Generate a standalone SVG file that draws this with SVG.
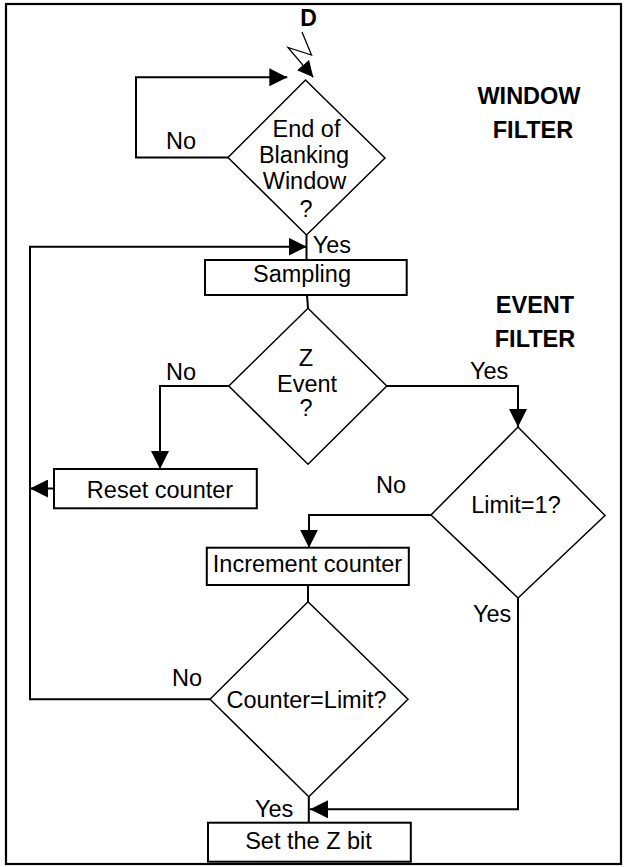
<svg xmlns="http://www.w3.org/2000/svg" width="626" height="867" viewBox="0 0 626 867">
<style>
  .bg { fill: #ffffff; }
  .frame { fill: none; stroke: #000; stroke-width: 2.2; }
  .box { fill: #fff; stroke: #000; stroke-width: 2; }
  .dia { fill: #fff; stroke: #000; stroke-width: 1.5; }
  .con { fill: none; stroke: #000; stroke-width: 2; }
  .thin { fill: none; stroke: #000; stroke-width: 1.3; }
  text { font-family: "Liberation Sans", Arial, Helvetica, sans-serif; fill: #000; }
  .t { font-size: 23.5px; }
  .c { text-anchor: middle; }
  .h { font-size: 23.5px; font-weight: bold; text-anchor: middle; }
  .d { font-size: 23px; font-weight: bold; text-anchor: middle; }
</style>
<defs>
  <marker id="arr" markerUnits="userSpaceOnUse" markerWidth="18" markerHeight="18" viewBox="0 0 17 17" refX="17" refY="8.5" orient="auto">
    <path d="M0,0 L17,8.5 L0,17 z" fill="#000"/>
  </marker>
  <marker id="arrs" markerUnits="userSpaceOnUse" markerWidth="16" markerHeight="16" viewBox="0 0 16 16" refX="16" refY="8" orient="auto">
    <path d="M0,0 L16,8 L0,16 z" fill="#000"/>
  </marker>
</defs>
<rect class="bg" x="0" y="0" width="626" height="867"/>
<rect class="frame" x="6" y="4" width="615" height="860"/>

<g id="section-labels">
  <text class="h" x="529" y="104">WINDOW</text>
  <text class="h" x="533" y="138">FILTER</text>
  <text class="h" x="535" y="313">EVENT</text>
  <text class="h" x="535" y="347">FILTER</text>
</g>

<g id="connectors">
  <polyline class="thin" points="302,32 311.5,55 288,47.5 313.3,77.3" marker-end="url(#arrs)"/>
  <polyline class="con" points="228,157.5 136,157.5 136,77.3 287.3,77.3" marker-end="url(#arr)"/>
  <line class="con" x1="306.5" y1="235" x2="306.5" y2="260"/>
  <polyline class="con" points="210,699.3 30,699.3 30,246.7 306.7,246.7" marker-end="url(#arr)"/>
  <line class="con" x1="307" y1="295" x2="308" y2="308.3"/>
  <polyline class="con" points="228.8,386 160,386 160,469" marker-end="url(#arr)"/>
  <line class="con" x1="54" y1="488.5" x2="30" y2="488.5" marker-end="url(#arr)"/>
  <polyline class="con" points="386.8,386 518,386 518,427" marker-end="url(#arr)"/>
  <polyline class="con" points="431,515 309,515 309,547.7" marker-end="url(#arr)"/>
  <line class="con" x1="308" y1="585" x2="308" y2="601.7"/>
  <line class="con" x1="308.8" y1="796.7" x2="308.8" y2="822.7"/>
  <polyline class="con" points="518,598 518,809.3 310,809.3" marker-end="url(#arr)"/>
</g>

<g id="connector-labels">
  <text class="t" x="166" y="149">No</text>
  <text class="t" x="312.7" y="253">Yes</text>
  <text class="t" x="166" y="380">No</text>
  <text class="t" x="470" y="379.3">Yes</text>
  <text class="t" x="376" y="493">No</text>
  <text class="t" x="473" y="621.7">Yes</text>
  <text class="t" x="172" y="686">No</text>
  <text class="t" x="255" y="816.7">Yes</text>
</g>

<g id="start-D">
  <text class="d" x="308.5" y="26">D</text>
</g>

<g id="end-of-blanking">
  <polygon class="dia" points="305.5,80 385,158 306.5,235 228,157.5"/>
  <text class="t c" x="306.5" y="136.7">End of</text>
  <text class="t c" x="304" y="162.7">Blanking</text>
  <text class="t c" x="304.5" y="189">Window</text>
  <text class="t c" x="306" y="216.7">?</text>
</g>

<g id="sampling">
  <rect class="box" x="205" y="260" width="201.7" height="35"/>
  <text class="t c" x="302" y="281.7">Sampling</text>
</g>

<g id="z-event">
  <polygon class="dia" points="308,308.3 386.8,386 308,464.3 228.8,386"/>
  <text class="t c" x="306" y="366">Z</text>
  <text class="t c" x="307" y="391.7">Event</text>
  <text class="t c" x="306" y="416">?</text>
</g>

<g id="reset-counter">
  <rect class="box" x="54" y="469" width="202.8" height="39.3"/>
  <text class="t c" x="160" y="498">Reset counter</text>
</g>

<g id="limit-1">
  <polygon class="dia" points="518,427 605,515.5 518,598 431,515"/>
  <text class="t c" x="516" y="513.3">Limit=1?</text>
</g>

<g id="increment-counter">
  <rect class="box" x="206.8" y="547.7" width="202" height="37.3"/>
  <text class="t c" x="307.5" y="571.7">Increment counter</text>
</g>

<g id="counter-limit">
  <polygon class="dia" points="308,601.7 408,699.3 308.8,796.7 210,699.3"/>
  <text class="t c" x="306.5" y="708.3">Counter=Limit?</text>
</g>

<g id="set-z-bit">
  <rect class="box" x="208" y="822.7" width="202.8" height="39"/>
  <text class="t c" x="308.5" y="849.3">Set the Z bit</text>
</g>
</svg>
